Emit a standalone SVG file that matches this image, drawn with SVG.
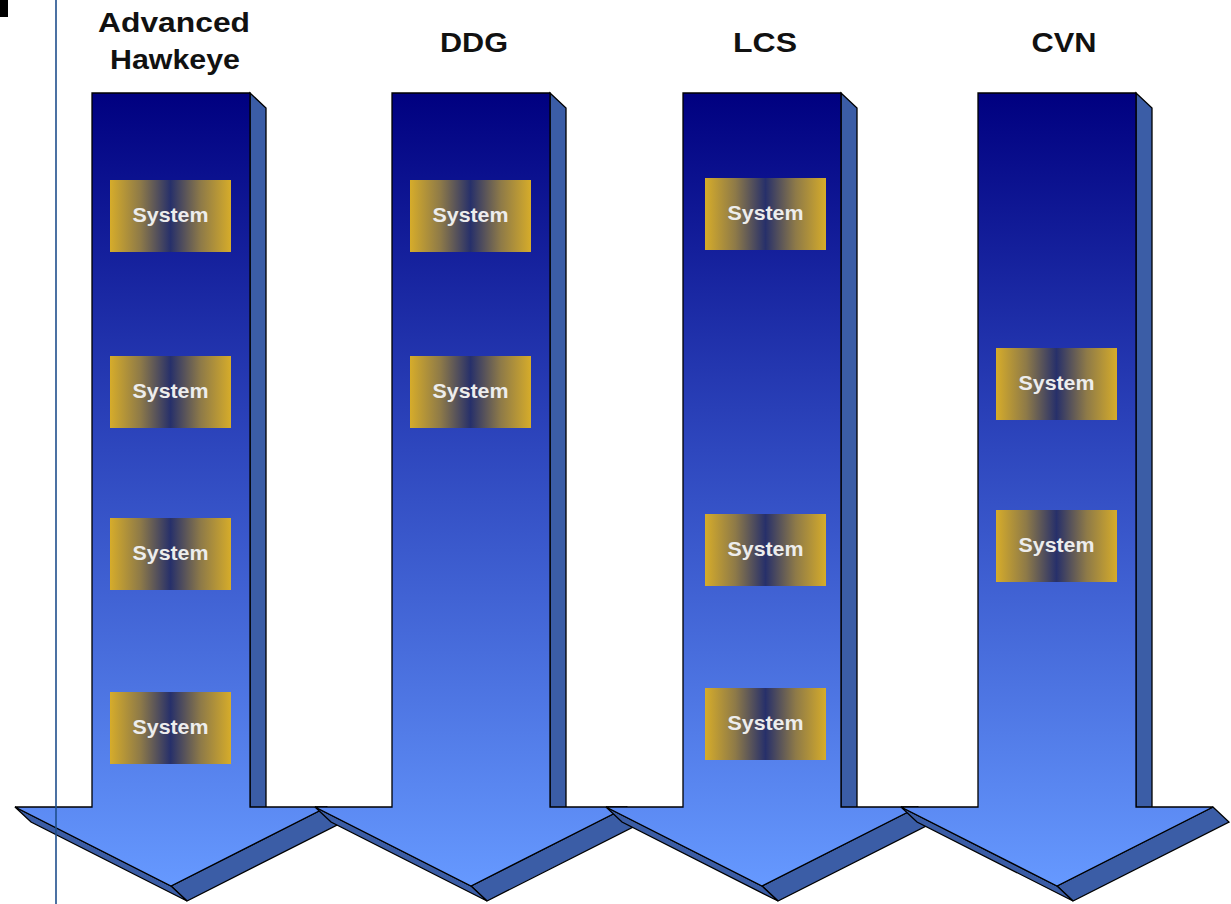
<svg xmlns="http://www.w3.org/2000/svg" width="1231" height="904" viewBox="0 0 1231 904">
  <style>
    .front { fill: url(#frontGrad); stroke: #000; stroke-width: 1.3; stroke-linejoin: miter; }
    .side { fill: #3B5DA6; stroke: #000; stroke-width: 1.3; stroke-linejoin: miter; }
    .box { fill: url(#boxGrad); }
    .boxtxt { font-family: "Liberation Sans", Arial, sans-serif; font-weight: bold; font-size: 20px; fill: #EDEDED; text-anchor: middle; }
    .title { font-family: "Liberation Sans", Arial, sans-serif; font-weight: bold; font-size: 27px; fill: #111; text-anchor: middle; }
  </style>
  <defs>
    <linearGradient id="frontGrad" gradientUnits="userSpaceOnUse" x1="0" y1="93" x2="0" y2="886">
      <stop offset="0" stop-color="#000080"/>
      <stop offset="0.45" stop-color="#2E47BE"/>
      <stop offset="1" stop-color="#6699FF"/>
    </linearGradient>
    <linearGradient id="boxGrad" x1="0" y1="0" x2="1" y2="0">
      <stop offset="0" stop-color="#D6AC2A"/>
      <stop offset="0.25" stop-color="#8E7A48"/>
      <stop offset="0.5" stop-color="#27306A"/>
      <stop offset="0.75" stop-color="#8E7A48"/>
      <stop offset="1" stop-color="#D6AC2A"/>
    </linearGradient>
  </defs>
  <rect x="0" y="0" width="1231" height="904" fill="#FFFFFF"/>

  <g id="arrow-advanced-hawkeye">
    <polygon class="side" points="250,93 266,108 266,822 250,822"/>
    <polygon class="side" points="171,886 327,807 343,822 187,901"/>
    <polygon class="side" points="15,807 171,886 187,901 31,822"/>
    <path class="front" d="M92,93 L250,93 L250,807 L327,807 L171,886 L15,807 L92,807 Z"/>
  </g>
  <g id="arrow-ddg">
    <polygon class="side" points="550,93 566,108 566,822 550,822"/>
    <polygon class="side" points="471,886 627,807 643,822 487,901"/>
    <polygon class="side" points="315,807 471,886 487,901 331,822"/>
    <path class="front" d="M392,93 L550,93 L550,807 L627,807 L471,886 L315,807 L392,807 Z"/>
  </g>
  <g id="arrow-lcs">
    <polygon class="side" points="841,93 857,108 857,822 841,822"/>
    <polygon class="side" points="762,886 918,807 934,822 778,901"/>
    <polygon class="side" points="606,807 762,886 778,901 622,822"/>
    <path class="front" d="M683,93 L841,93 L841,807 L918,807 L762,886 L606,807 L683,807 Z"/>
  </g>
  <g id="arrow-cvn">
    <polygon class="side" points="1136,93 1152,108 1152,822 1136,822"/>
    <polygon class="side" points="1057,886 1213,807 1229,822 1073,901"/>
    <polygon class="side" points="901,807 1057,886 1073,901 917,822"/>
    <path class="front" d="M978,93 L1136,93 L1136,807 L1213,807 L1057,886 L901,807 L978,807 Z"/>
  </g>

  <g id="title-advanced-hawkeye">
    <text class="title" x="174" y="32" textLength="152" lengthAdjust="spacingAndGlyphs">Advanced</text>
    <text class="title" x="175" y="69" textLength="130" lengthAdjust="spacingAndGlyphs">Hawkeye</text>
  </g>
  <g id="title-ddg"><text class="title" x="474" y="52" textLength="68" lengthAdjust="spacingAndGlyphs">DDG</text></g>
  <g id="title-lcs"><text class="title" x="765" y="52" textLength="64" lengthAdjust="spacingAndGlyphs">LCS</text></g>
  <g id="title-cvn"><text class="title" x="1064" y="52" textLength="65" lengthAdjust="spacingAndGlyphs">CVN</text></g>

  <g id="sys-ah-1"><rect class="box" x="110" y="180" width="121" height="72"/><text class="boxtxt" x="170.5" y="222" textLength="76" lengthAdjust="spacingAndGlyphs">System</text></g>
  <g id="sys-ah-2"><rect class="box" x="110" y="356" width="121" height="72"/><text class="boxtxt" x="170.5" y="398" textLength="76" lengthAdjust="spacingAndGlyphs">System</text></g>
  <g id="sys-ah-3"><rect class="box" x="110" y="518" width="121" height="72"/><text class="boxtxt" x="170.5" y="560" textLength="76" lengthAdjust="spacingAndGlyphs">System</text></g>
  <g id="sys-ah-4"><rect class="box" x="110" y="692" width="121" height="72"/><text class="boxtxt" x="170.5" y="734" textLength="76" lengthAdjust="spacingAndGlyphs">System</text></g>

  <g id="sys-ddg-1"><rect class="box" x="410" y="180" width="121" height="72"/><text class="boxtxt" x="470.5" y="222" textLength="76" lengthAdjust="spacingAndGlyphs">System</text></g>
  <g id="sys-ddg-2"><rect class="box" x="410" y="356" width="121" height="72"/><text class="boxtxt" x="470.5" y="398" textLength="76" lengthAdjust="spacingAndGlyphs">System</text></g>

  <g id="sys-lcs-1"><rect class="box" x="705" y="178" width="121" height="72"/><text class="boxtxt" x="765.5" y="220" textLength="76" lengthAdjust="spacingAndGlyphs">System</text></g>
  <g id="sys-lcs-2"><rect class="box" x="705" y="514" width="121" height="72"/><text class="boxtxt" x="765.5" y="556" textLength="76" lengthAdjust="spacingAndGlyphs">System</text></g>
  <g id="sys-lcs-3"><rect class="box" x="705" y="688" width="121" height="72"/><text class="boxtxt" x="765.5" y="730" textLength="76" lengthAdjust="spacingAndGlyphs">System</text></g>

  <g id="sys-cvn-1"><rect class="box" x="996" y="348" width="121" height="72"/><text class="boxtxt" x="1056.5" y="390" textLength="76" lengthAdjust="spacingAndGlyphs">System</text></g>
  <g id="sys-cvn-2"><rect class="box" x="996" y="510" width="121" height="72"/><text class="boxtxt" x="1056.5" y="552" textLength="76" lengthAdjust="spacingAndGlyphs">System</text></g>

  <g id="decor">
    <line x1="56" y1="0" x2="56" y2="904" stroke="#1F4E8C" stroke-width="1.6"/>
    <rect x="0" y="0" width="8" height="17" fill="#000"/>
  </g>
  <g id="connectors"/>
</svg>
